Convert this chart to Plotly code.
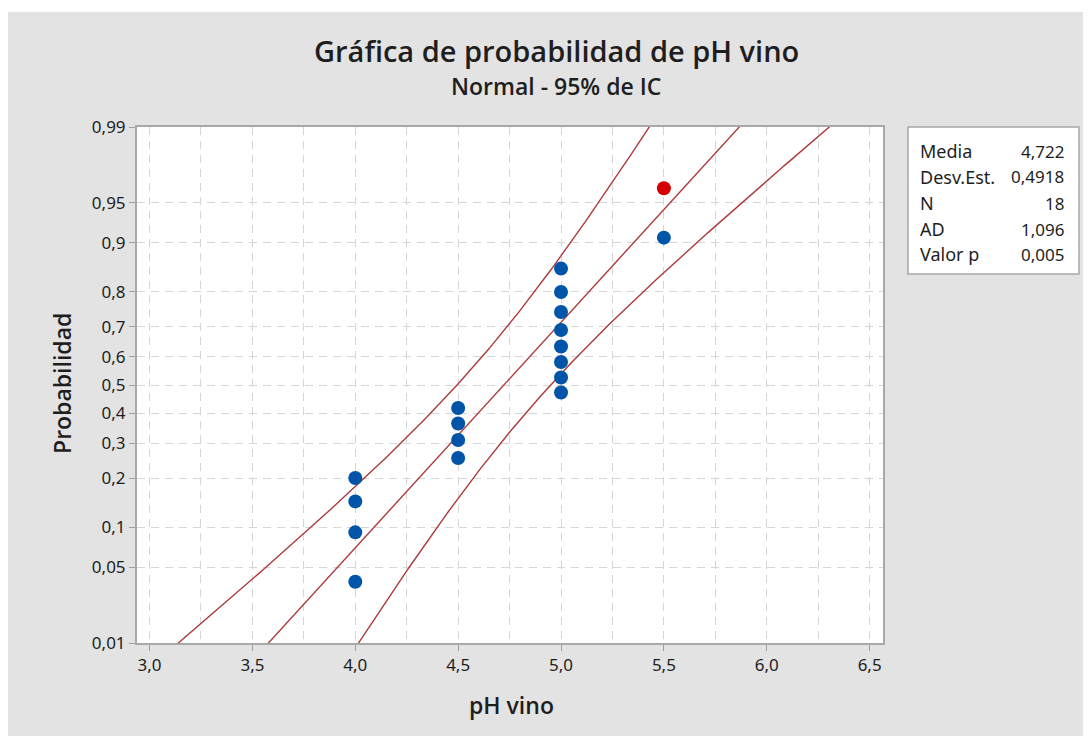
import plotly.graph_objects as go
from statistics import NormalDist

# ---- data ----
ph_values = [4.0, 4.0, 4.0, 4.0, 4.5, 4.5, 4.5, 4.5,
             5.0, 5.0, 5.0, 5.0, 5.0, 5.0, 5.0, 5.0, 5.5, 5.5]
probabilities = [0.038, 0.092, 0.147, 0.201, 0.255, 0.310, 0.364, 0.418,
                 0.473, 0.527, 0.582, 0.636, 0.690, 0.745, 0.799, 0.853, 0.908, 0.962]
highlight_index = 17  # the red point

media = 4.722
desv_est = 0.4918
n_obs = 18

stat_labels = ["Media", "Desv.Est.", "N", "AD", "Valor p"]
stat_values = ["4,722", "0,4918", "18", "1,096", "0,005"]

y_tick_probs = [0.01, 0.05, 0.1, 0.2, 0.3, 0.4, 0.5, 0.6, 0.7, 0.8, 0.9, 0.95, 0.99]
y_tick_text = ["0,01", "0,05", "0,1", "0,2", "0,3", "0,4", "0,5", "0,6", "0,7", "0,8", "0,9", "0,95", "0,99"]
x_tick_vals = [3.0, 3.5, 4.0, 4.5, 5.0, 5.5, 6.0, 6.5]
x_tick_text = ["3,0", "3,5", "4,0", "4,5", "5,0", "5,5", "6,0", "6,5"]

nd = NormalDist()
z = lambda p: nd.inv_cdf(p)

# ---- fitted line & 95% CI for percentiles (from Media / Desv.Est.) ----
zmin, zmax = z(0.01), z(0.99)
zgrid = [zmin - 0.1 + i * (zmax - zmin + 0.2) / 200 for i in range(201)]
fit_x = [media + desv_est * zz for zz in zgrid]
se = [desv_est * ((1 / n_obs) + zz * zz / (2 * n_obs)) ** 0.5 for zz in zgrid]
lo_x = [f - 1.96 * s for f, s in zip(fit_x, se)]
hi_x = [f + 1.96 * s for f, s in zip(fit_x, se)]

FONT = "Noto Sans"
TFONT = "Open Sans"
TXT = "#1e1e1e"
LINE_COL = "#ad3a3a"
GRID = "#d6d6d6"
fig = go.Figure()
for xs in (lo_x, fit_x, hi_x):
    fig.add_trace(go.Scatter(x=xs, y=zgrid, mode="lines",
                             line=dict(color=LINE_COL, width=1.4),
                             hoverinfo="skip", showlegend=False))

colors = ["#d40000" if i == highlight_index else "#0055a8" for i in range(len(ph_values))]
fig.add_trace(go.Scatter(x=ph_values, y=[z(p) for p in probabilities], mode="markers",
                         marker=dict(color=colors, size=14, line=dict(width=0)),
                         showlegend=False))

W, H = 1091, 736
OFF = 8  # page body margin
L, R, T, B = 129, 216, 119, 101
pw, ph = W - L - R, H - T - B
def sx(xs):  # screenshot x -> paper
    return (xs - OFF - L) / pw
def sy(ys):  # screenshot y -> paper
    return 1 - (ys - OFF - T) / ph

fig.update_layout(
    width=W, height=H,
    margin=dict(l=L, r=R, t=T, b=B),
    paper_bgcolor="#e3e3e3",
    plot_bgcolor="#ffffff",
    font=dict(family=FONT, color=TXT),
    xaxis=dict(range=[2.939, 6.565], tickvals=x_tick_vals, ticktext=x_tick_text,
               showgrid=True, gridcolor=GRID, griddash="8px,6px", gridwidth=1,
               minor=dict(dtick=0.25, tick0=3.0, showgrid=True, gridcolor=GRID,
                          griddash="8px,6px", gridwidth=1, ticks=""),
               ticks="outside", ticklen=6, tickcolor="#a0a0a0",
               tickfont=dict(size=17, color=TXT),
               showline=True, linecolor="#a8a8a8", linewidth=2, mirror=True,
               zeroline=False),
    yaxis=dict(range=[zmin, zmax], tickvals=[z(p) for p in y_tick_probs], ticktext=y_tick_text,
               showgrid=True, gridcolor=GRID, griddash="8px,6px", gridwidth=1,
               ticks="outside", ticklen=6, tickcolor="#a0a0a0",
               tickfont=dict(size=17, color=TXT),
               showline=True, linecolor="#a8a8a8", linewidth=2, mirror=True,
               zeroline=False),
)

shapes = [
    # thin white strip at top of the image
    dict(type="rect", xref="paper", yref="paper", x0=sx(0), x1=sx(W + 20), y0=sy(12), y1=sy(0),
         fillcolor="#ffffff", line=dict(width=0), layer="below"),
    # stats box
    dict(type="rect", xref="paper", yref="paper", x0=sx(908), x1=sx(1079), y0=sy(274), y1=sy(127),
         fillcolor="#ffffff", line=dict(color="#a8a8a8", width=1.5)),
]
fig.update_layout(shapes=shapes)

ann = [
    dict(text="Gráfica de probabilidad de pH vino", x=sx(556), y=sy(51), xref="paper", yref="paper",
         showarrow=False, font=dict(family=TFONT, size=29, color=TXT, weight=600), xanchor="center", yanchor="middle"),
    dict(text="Normal - 95% de IC", x=sx(556), y=sy(86), xref="paper", yref="paper",
         showarrow=False, font=dict(family=TFONT, size=23, color=TXT, weight=600), xanchor="center", yanchor="middle"),
    dict(text="pH vino", x=sx(511), y=sy(705), xref="paper", yref="paper",
         showarrow=False, font=dict(family=TFONT, size=23, color=TXT, weight=600), xanchor="center", yanchor="middle"),
    dict(text="Probabilidad", x=sx(62), y=sy(384), xref="paper", yref="paper", textangle=-90,
         showarrow=False, font=dict(family=TFONT, size=23, color=TXT, weight=600), xanchor="center", yanchor="middle"),
]
row_y = [151, 177, 203, 229, 254]
for lab, val, yy in zip(stat_labels, stat_values, row_y):
    ann.append(dict(text=lab, x=sx(918), y=sy(yy), xref="paper", yref="paper", showarrow=False,
                    xanchor="left", yanchor="middle", font=dict(size=18, color=TXT)))
    ann.append(dict(text=val, x=sx(1066), y=sy(yy), xref="paper", yref="paper", showarrow=False,
                    xanchor="right", yanchor="middle", font=dict(size=17, color=TXT)))
fig.update_layout(annotations=ann)

fig.write_html("out.html")
